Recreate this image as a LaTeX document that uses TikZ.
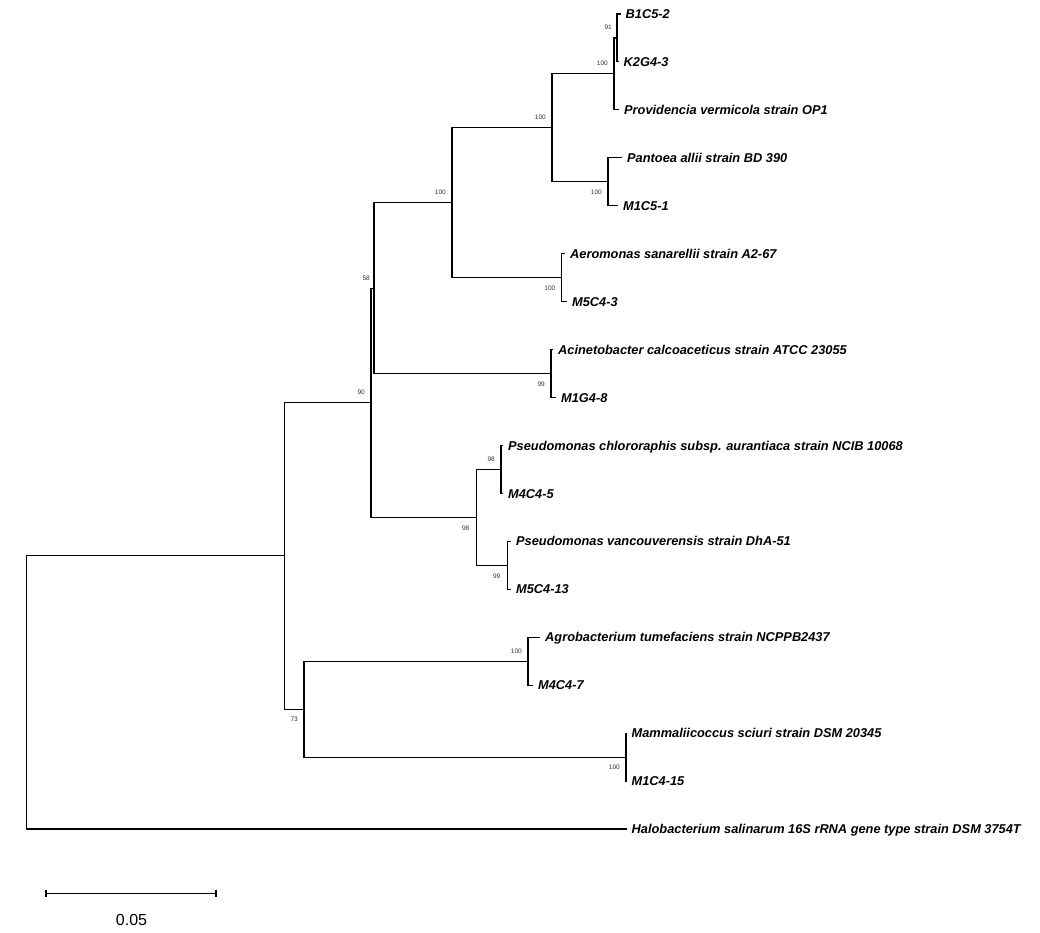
\documentclass[tikz,border=0pt]{standalone}
\usepackage{fontspec}
\setmainfont{Liberation Sans}
\begin{document}
\begin{tikzpicture}[x=1pt,y=-1pt,
  br/.style={line width=1.1pt, black},
  taxon/.style={anchor=base west, inner sep=0pt, font=\fontsize{12.8}{15}\selectfont\bfseries\itshape, yshift=-4.6pt, xshift=5pt},
  bsup/.style={anchor=base east, inner sep=0pt, font=\fontsize{6.5}{7.5}\selectfont, text=black!80, yshift=-2.3pt},
  scalelab/.style={anchor=base, inner sep=0pt, font=\fontsize{16}{18}\selectfont}
]
\useasboundingbox (0,0) rectangle (1040,933);
% internal nodes
\coordinate (root) at (26.3,692.5);
\coordinate (nA) at (284.3,555.9);
\coordinate (n90) at (371,402.8);
\coordinate (n58) at (374,288.2);
\coordinate (n452) at (452,202.8);
\coordinate (n552) at (552,127.9);
\coordinate (n614) at (614,73.9);
\coordinate (n91) at (617,38);
\coordinate (nPan) at (608,181.8);
\coordinate (nAero) at (561.5,277.7);
\coordinate (nAcin) at (551,373.55);
\coordinate (nPs) at (476.5,517.4);
\coordinate (nPs1) at (501,469.4);
\coordinate (nPs2) at (507.5,565.3);
\coordinate (n73) at (304,709.1);
\coordinate (nAgro) at (528,661.2);
\coordinate (nMam) at (626,757.1);
% leaf tips
\coordinate (lB1) at (620.5,14);
\coordinate (lK2) at (618.5,61.94);
\coordinate (lPv) at (619,109.88);
\coordinate (lPa) at (622,157.82);
\coordinate (lM1C5) at (618,205.76);
\coordinate (lAe) at (565,253.7);
\coordinate (lM5C43) at (567,301.64);
\coordinate (lAc) at (553,349.58);
\coordinate (lM1G4) at (556,397.52);
\coordinate (lPc) at (503,445.46);
\coordinate (lM4C45) at (503,493.4);
\coordinate (lPs) at (511,541.34);
\coordinate (lM5C413) at (511,589.28);
\coordinate (lAg) at (540,637.22);
\coordinate (lM4C47) at (533,685.16);
\coordinate (lMa) at (626.5,733.1);
\coordinate (lM1C4) at (626.5,781.04);
\coordinate (lHa) at (626.5,829);
% branches
\draw[br] (root) |- (nA);
\draw[br] (root) |- (lHa);
\draw[br] (nA) |- (n90);
\draw[br] (nA) |- (n73);
\draw[br] (n90) |- (n58);
\draw[br] (n90) |- (nPs);
\draw[br] (n58) |- (n452);
\draw[br] (n58) |- (nAcin);
\draw[br] (n452) |- (n552);
\draw[br] (n452) |- (nAero);
\draw[br] (n552) |- (n614);
\draw[br] (n552) |- (nPan);
\draw[br] (n614) |- (n91);
\draw[br] (n614) |- (lPv);
\draw[br] (n91) |- (lB1);
\draw[br] (n91) |- (lK2);
\draw[br] (nPan) |- (lPa);
\draw[br] (nPan) |- (lM1C5);
\draw[br] (nAero) |- (lAe);
\draw[br] (nAero) |- (lM5C43);
\draw[br] (nAcin) |- (lAc);
\draw[br] (nAcin) |- (lM1G4);
\draw[br] (nPs) |- (nPs1);
\draw[br] (nPs) |- (nPs2);
\draw[br] (nPs1) |- (lPc);
\draw[br] (nPs1) |- (lM4C45);
\draw[br] (nPs2) |- (lPs);
\draw[br] (nPs2) |- (lM5C413);
\draw[br] (n73) |- (nAgro);
\draw[br] (n73) |- (nMam);
\draw[br] (nAgro) |- (lAg);
\draw[br] (nAgro) |- (lM4C47);
\draw[br] (nMam) |- (lMa);
\draw[br] (nMam) |- (lM1C4);
% taxon labels
\node[taxon] (tB1) at (lB1) {B1C5-2};
\node[taxon] (tK2) at (lK2) {K2G4-3};
\node[taxon] (tPv) at (lPv) {Providencia vermicola strain OP1};
\node[taxon] (tPa) at (lPa) {Pantoea allii strain BD 390};
\node[taxon] (tM1C5) at (lM1C5) {M1C5-1};
\node[taxon] (tAe) at (lAe) {Aeromonas sanarellii strain A2-67};
\node[taxon] (tM5C43) at (lM5C43) {M5C4-3};
\node[taxon] (tAc) at (lAc) {Acinetobacter calcoaceticus strain ATCC 23055};
\node[taxon] (tM1G4) at (lM1G4) {M1G4-8};
\node[taxon] (tPc) at (lPc) {Pseudomonas chlororaphis subsp. aurantiaca strain NCIB 10068};
\node[taxon] (tM4C45) at (lM4C45) {M4C4-5};
\node[taxon] (tPs) at (lPs) {Pseudomonas vancouverensis strain DhA-51};
\node[taxon] (tM5C413) at (lM5C413) {M5C4-13};
\node[taxon] (tAg) at (lAg) {Agrobacterium tumefaciens strain NCPPB2437};
\node[taxon] (tM4C47) at (lM4C47) {M4C4-7};
\node[taxon] (tMa) at (lMa) {Mammaliicoccus sciuri strain DSM 20345};
\node[taxon] (tM1C4) at (lM1C4) {M1C4-15};
\node[taxon] (tHa) at (lHa) {Halobacterium salinarum 16S rRNA gene type strain DSM 3754T};
% bootstrap values
\path (n91) ++(-5,-10.5) node[bsup] (b91) {91};
\path (n614) ++(-6,-10.5) node[bsup] (b614) {100};
\path (nPan) ++(-6,10.5) node[bsup] (bPan) {100};
\path (n552) ++(-6,-10.5) node[bsup] (b552) {100};
\path (nAero) ++(-6,10.5) node[bsup] (bAero) {100};
\path (n452) ++(-6,-10.5) node[bsup] (b452) {100};
\path (nAcin) ++(-6,10.5) node[bsup] (bAcin) {99};
\path (n58) ++(-4,-10.5) node[bsup] (b58) {58};
\path (n90) ++(-6,-10.5) node[bsup] (b90) {90};
\path (nPs) ++(-7,10.5) node[bsup] (bPs) {98};
\path (nPs1) ++(-6,-10.5) node[bsup] (bPs1) {98};
\path (nPs2) ++(-7,10.5) node[bsup] (bPs2) {99};
\path (n73) ++(-6,10.5) node[bsup] (b73) {73};
\path (nAgro) ++(-6,-10.5) node[bsup] (bAgro) {100};
\path (nMam) ++(-6,10.5) node[bsup] (bMam) {100};
% scale bar
\coordinate (sL) at (46,893.3);
\coordinate (sR) at (216,893.3);
\draw[br] (sL) -- (sR);
\draw[br] (sL) ++(0,-3.5) -- ++(0,7);
\draw[br] (sR) ++(0,-3.5) -- ++(0,7);
\node[scalelab] (sLab) at (131.5,925.8) {0.05};
\end{tikzpicture}
\end{document}
